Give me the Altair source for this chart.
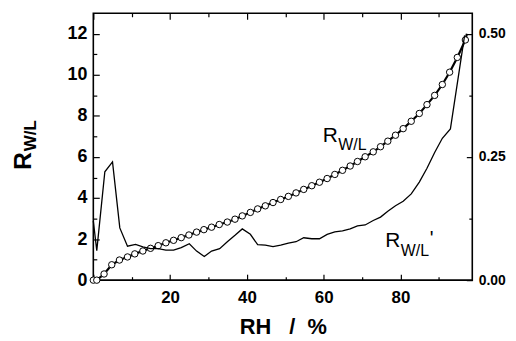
import altair as alt
import pandas as pd

# ---- data ----
# R_W/L (left axis), circles every ~2 % RH
RH_CIRCLES = [0, 0.9, 2.8, 4.8, 6.8, 8.9, 10.8, 12.9, 14.9, 16.9, 18.9, 20.9, 22.9, 24.9,
              26.9, 28.8, 30.8, 32.8, 34.9, 36.9, 38.8, 40.9, 42.8, 44.8, 46.8, 48.8, 50.8,
              52.8, 54.8, 56.9, 58.9, 60.9, 62.9, 64.9, 66.9, 68.8, 70.8, 72.9, 74.8, 76.7,
              78.7, 80.7, 82.8, 84.9, 86.9, 88.9, 90.9, 92.8, 94.8, 96.9]
R_WL = [0, 0, 0.30, 0.75, 0.98, 1.13, 1.28, 1.42, 1.55, 1.68, 1.82, 1.94, 2.07, 2.20,
        2.34, 2.46, 2.58, 2.71, 2.83, 2.97, 3.13, 3.30, 3.47, 3.62, 3.78, 3.93, 4.08,
        4.25, 4.42, 4.60, 4.77, 4.95, 5.15, 5.35, 5.56, 5.78, 6.01, 6.25, 6.50, 6.77,
        7.06, 7.38, 7.74, 8.12, 8.55, 9.00, 9.53, 10.13, 10.85, 11.70]
RH_LINE_END = [97.3]
R_LINE_END = [12.0]

# R_W/L' (right axis)
RH_PRIME = [0, 0.9, 3.0, 5.0, 6.9, 8.9, 11.0, 12.9, 14.9, 16.9, 18.9, 20.9, 22.9, 25.0,
            26.9, 28.9, 30.8, 32.9, 34.9, 36.9, 38.8, 40.9, 42.8, 44.8, 46.8, 48.8, 50.8,
            52.8, 54.8, 56.9, 58.9, 60.9, 62.9, 64.9, 66.9, 68.8, 70.8, 72.9, 74.8, 76.7,
            78.7, 80.7, 82.8, 84.9, 86.9, 88.9, 90.9, 93.0, 96.7]
R_WL_PRIME = [0.120, 0.060, 0.220, 0.240, 0.106, 0.069, 0.0725, 0.0675, 0.064, 0.064,
              0.061, 0.061, 0.066, 0.074, 0.059, 0.048, 0.059, 0.064, 0.078, 0.091, 0.104,
              0.093, 0.072, 0.071, 0.068, 0.071, 0.075, 0.078, 0.086, 0.084, 0.084, 0.093,
              0.098, 0.100, 0.104, 0.110, 0.112, 0.121, 0.128, 0.140, 0.151, 0.160, 0.175,
              0.199, 0.227, 0.259, 0.288, 0.307, 0.497]

# axis ticks
X_TICKS = [0, 10, 20, 30, 40, 50, 60, 70, 80, 90]
Y_LEFT_TICKS = [0, 1, 2, 3, 4, 5, 6, 7, 8, 9, 10, 11, 12]
Y_RIGHT_TICKS = [0, 0.125, 0.25, 0.375, 0.5]

# in-plot labels
LABEL_TEXT = ["R", "W/L", "R", "W/L", "'"]
LABEL_RH = [59.75, 63.8, 76.05, 80.1, 87.6]
LABEL_R = [6.74, 6.32, 1.60, 1.16, 1.72]
LABEL_SIZE = [21, 16, 21, 16, 20]

# left axis title parts
TITLE_TEXT = ["R", "W/L"]
TITLE_SIZE = [25, 17]

FONT = "Liberation Sans"
X_DOMAIN = [0, 98.7]
Y_LEFT_DOMAIN = [0, 13]
Y_RIGHT_DOMAIN = [0, 13 / 24]

circ_df = pd.DataFrame({"rh": RH_CIRCLES, "r": R_WL})
line_df = pd.DataFrame({"rh": RH_CIRCLES + RH_LINE_END, "r": R_WL + R_LINE_END})
prime_df = pd.DataFrame({"rh": RH_PRIME, "rp": R_WL_PRIME})
label_df = pd.DataFrame({"rh": LABEL_RH, "r": LABEL_R, "t": LABEL_TEXT, "s": LABEL_SIZE})

x_bottom = alt.X(
    "rh:Q",
    scale=alt.Scale(domain=X_DOMAIN, nice=False, zero=False),
    axis=alt.Axis(
        orient="bottom", values=X_TICKS, grid=False, domain=False,
        tickColor="black", tickWidth=1.2,
        tickSize=alt.ExprRef("datum.value % 20 ? -3.5 : -6"),
        labelExpr="(datum.value % 20 || datum.value == 0) ? '' : datum.label",
        labelFont=FONT, labelFontSize=17, labelFontWeight="bold", labelColor="black",
        labelPadding=16, labelOverlap=False, labelFlush=False,
        title="RH\u00a0\u00a0\u00a0/\u00a0\u00a0%", titleFont=FONT, titleFontSize=22,
        titleFontWeight="bold", titleColor="black", titleY=54,
        titleBaseline="alphabetic",
    ),
)
x_top = alt.X(
    "rh:Q",
    scale=alt.Scale(domain=X_DOMAIN, nice=False, zero=False),
    axis=alt.Axis(
        orient="top", values=X_TICKS, grid=False, domain=False,
        tickColor="black", tickWidth=1.2,
        tickSize=alt.ExprRef("datum.value % 20 ? -3.5 : -6"),
        labels=False, title=None,
    ),
)
y_left = alt.Y(
    "r:Q",
    scale=alt.Scale(domain=Y_LEFT_DOMAIN, nice=False, zero=False),
    axis=alt.Axis(
        orient="left", values=Y_LEFT_TICKS, grid=False, domain=False,
        tickColor="black", tickWidth=1.2,
        tickSize=alt.ExprRef("datum.value % 2 ? -3.5 : -6"),
        labelExpr="datum.value % 2 ? '' : datum.label",
        labelFont=FONT, labelFontSize=18, labelFontWeight="bold", labelColor="black",
        labelPadding=12.5, labelOverlap=False, labelFlush=False, title=None,
    ),
)
y_right = alt.Y(
    "rp:Q",
    scale=alt.Scale(domain=Y_RIGHT_DOMAIN, nice=False, zero=False),
    axis=alt.Axis(
        orient="right", values=Y_RIGHT_TICKS, grid=False, domain=False, format=".2f",
        tickColor="black", tickWidth=1.2,
        tickSize=alt.ExprRef("(datum.value * 8) % 2 ? -3.5 : -6"),
        labelExpr="(datum.value * 8) % 2 ? '' : datum.label",
        labelFont=FONT, labelFontSize=14, labelFontWeight="bold", labelColor="black",
        labelPadding=12, labelOverlap=False, labelFlush=False, title=None,
    ),
)

r_line = alt.Chart(line_df).mark_line(color="black", strokeWidth=2.2).encode(
    x=x_bottom, y=y_left, order="rh:Q"
)
r_pts = alt.Chart(circ_df).mark_point(
    shape="circle", filled=True, fill="white", stroke="black", strokeWidth=1,
    size=42, opacity=1,
).encode(x=x_bottom, y=y_left)
labels = alt.Chart(label_df).mark_text(
    align="left", baseline="alphabetic", font=FONT, color="black"
).encode(
    x=x_bottom, y=y_left, text="t:N", size=alt.Size("s:Q", scale=None, legend=None)
)
title_r = alt.Chart(alt.Data(values=[{}])).mark_text(
    text=TITLE_TEXT[0], angle=270, align="left", baseline="alphabetic", font=FONT,
    fontSize=TITLE_SIZE[0], fontWeight="bold", color="black",
).encode(x=alt.value(-63), y=alt.value(158))
title_sub = alt.Chart(alt.Data(values=[{}])).mark_text(
    text=TITLE_TEXT[1], angle=270, align="left", baseline="alphabetic", font=FONT,
    fontSize=TITLE_SIZE[1], fontWeight="bold", color="black",
).encode(x=alt.value(-58), y=alt.value(139))

left = alt.layer(r_line, r_pts, labels, title_r, title_sub)

prime = alt.Chart(prime_df).mark_line(color="black", strokeWidth=1.3).encode(
    x=x_top, y=y_right, order="rh:Q"
)

chart = (
    alt.layer(left, prime)
    .resolve_scale(y="independent")
    .resolve_axis(x="independent", y="independent")
    .properties(
        width=382, height=269,
        autosize=alt.AutoSizeParams(type="none"),
        padding={"left": 86, "top": 4, "right": 36, "bottom": 58},
        background="white",
    )
    .configure_view(stroke="black", strokeWidth=1.6)
)

chart.save("out.html", embed_options={"renderer": "svg", "actions": False})
